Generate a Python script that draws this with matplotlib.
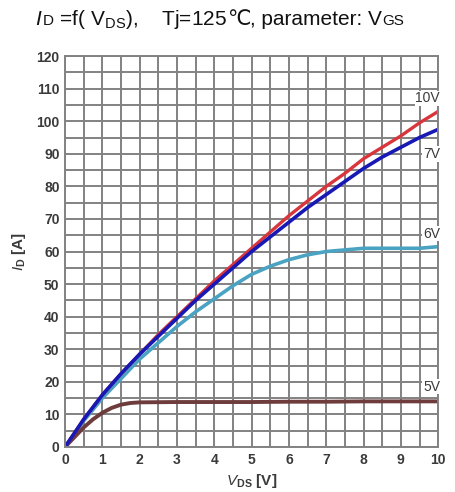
import matplotlib.pyplot as plt
import numpy as np

plt.rcParams['font.family'] = ['Liberation Sans', 'DejaVu Sans']
plt.rcParams['mathtext.fontset'] = 'custom'
plt.rcParams['mathtext.rm'] = 'Liberation Sans'
plt.rcParams['mathtext.it'] = 'Liberation Sans:italic'
plt.rcParams['mathtext.bf'] = 'Liberation Sans:bold'

# Output characteristics, Tj = 125 C
vds = [0, 0.5, 1, 1.5, 2, 2.5, 3, 3.5, 4, 4.5, 5, 5.5, 6, 6.5, 7, 7.5, 8, 8.5, 9, 9.5, 10]
id_10v = [0, 8.5, 16, 22.5, 28.5, 34.5, 40, 45.5, 51, 56, 61, 66, 71, 75.5, 80, 84, 88.5, 92, 95.5, 99.5, 103]
id_7v = [0, 8.5, 16, 22.5, 28.5, 34, 39.5, 45, 50, 55, 60, 64.5, 69, 73.5, 77.5, 81.5, 85.5, 89, 92, 95, 97.5]
id_6v = [0, 8, 15, 21, 27, 32, 37, 41.5, 45.5, 49.5, 53, 55.5, 57.5, 59, 60, 60.5, 61, 61, 61, 61, 61.5]
vds_5v = [0, 0.25, 0.5, 0.75, 1, 1.25, 1.5, 1.75, 2, 3, 4, 5, 6, 7, 8, 9, 10]
id_5v = [0, 3, 6, 8.5, 10.5, 12, 13, 13.5, 13.7, 13.8, 13.8, 13.8, 13.9, 13.9, 14, 14, 14]

vgs_labels = ['10V', '7V', '6V', '5V']
label_y = [107, 90, 65.5, 18.5]

fig = plt.figure(figsize=(4.55, 4.92), dpi=100)
ax = fig.add_axes([0.143, 0.0915, 0.820, 0.7945])

ax.set_xlim(0, 10)
ax.set_ylim(0, 120)
ax.set_xticks(np.arange(0, 11, 1))
ax.set_yticks(np.arange(0, 121, 10))
ax.set_xticks(np.arange(0, 10.01, 0.5), minor=True)
ax.set_yticks(np.arange(0, 120.1, 5), minor=True)
ax.grid(True, which='both', color='#828282', linewidth=1.4)
ax.set_axisbelow(True)
for sp in ax.spines.values():
    sp.set_color('#828282')
    sp.set_linewidth(1.4)
ax.tick_params(which='both', length=0, pad=4, labelsize=10, labelcolor='#3a3a3a')
for lab in ax.get_xticklabels() + ax.get_yticklabels():
    lab.set_fontweight('bold')

ax.plot(vds, id_6v, color='#4aa3c2', lw=2.6)
ax.plot(vds_5v, id_5v, color='#6e3c3c', lw=2.8)
ax.plot(vds, id_10v, color='#d8363c', lw=2.4)
ax.plot(vds, id_7v, color='#1818b4', lw=2.6)

for txt, y in zip(vgs_labels, label_y):
    ax.text(10.05, y, txt, ha='right', va='center', fontsize=10, color='#3a3a3a',
            bbox=dict(facecolor='white', edgecolor='none', pad=0.5), clip_on=False)

ax.set_xlabel(r'$\mathbf{\mathit{V}}$$_{\mathbf{DS}}$ [V]', fontsize=11, fontweight='bold',
              color='#3a3a3a', labelpad=4)
ax.set_ylabel(r'$\mathit{I}$$_{\mathbf{D}}$ [A]', fontsize=11, fontweight='bold',
              color='#3a3a3a', labelpad=6)

# title pieces placed one after another
fig.canvas.draw()
renderer = fig.canvas.get_renderer()
pieces = [
    (r'$\mathit{I}$', 15),
    ('D', 11),
    (r' =f( V$_{\rm DS}$),    Tj=125', 15),
    ('℃', 15),
    (', parameter: V', 15),
    ('GS', 11),
]
x_px = 35
y_fig = 0.949
for txt, size in pieces:
    fam = ['DejaVu Sans'] if txt == '℃' else ['Liberation Sans', 'DejaVu Sans']
    t = fig.text(x_px / 455, y_fig, txt, fontsize=size, color='#111111',
                 ha='left', va='baseline', family=fam)
    bb = t.get_window_extent(renderer)
    x_px += bb.width

fig.savefig('out.png', dpi=100)
